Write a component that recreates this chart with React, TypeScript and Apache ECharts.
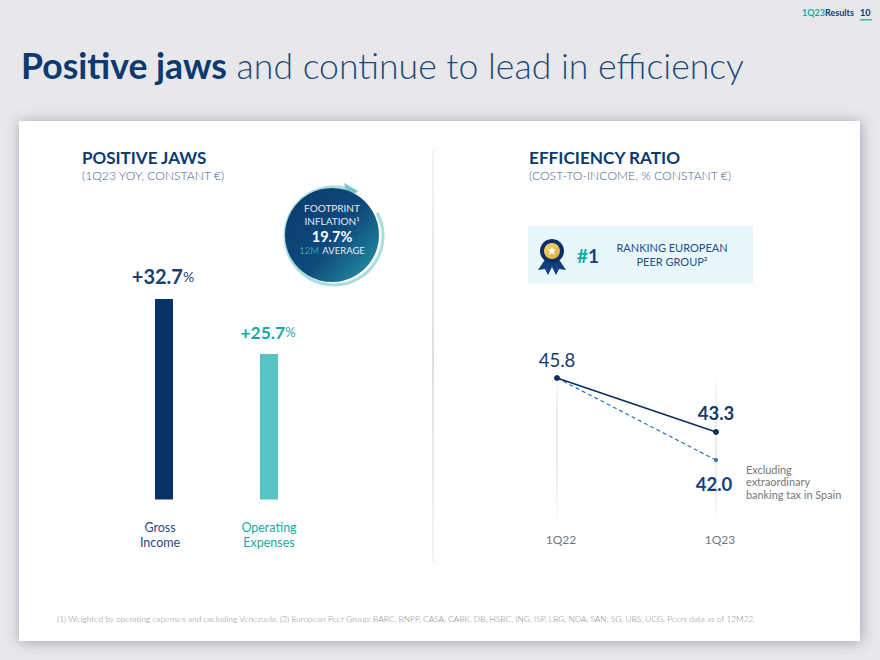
import React, { useEffect, useRef } from "react";
import * as echarts from "echarts";

const jawCategories = ["Gross\nIncome", "Operating\nExpenses"];
const jawValues = [32.7, 25.7];
const periods = ["1Q22", "1Q23"];
const reportedRatio = [45.8, 43.3];
const excludingTaxRatio = [45.8, 42.0];
const peers = "BARC, BNPP, CASA, CABK, DB, HSBC, ING, ISP, LBG, NDA, SAN, SG, UBS, UCG";

const NAVY = "#0b3a70";
const TEAL = "#17a9a6";
const FONT = "Lato";

const txt = (x: number, y: number, text: string, fontSize: number, fill: string, extra: any = {}) => ({
  type: "text",
  x,
  y,
  style: { text, fontSize, fill, fontFamily: FONT, textVerticalAlign: "middle", verticalAlign: "middle", ...extra },
});

const star = (cx: number, cy: number, R: number, r: number) => {
  const pts: number[][] = [];
  for (let i = 0; i < 10; i++) {
    const a = -Math.PI / 2 + (i * Math.PI) / 5;
    const d = i % 2 === 0 ? R : r;
    pts.push([cx + d * Math.cos(a), cy + d * Math.sin(a)]);
  }
  return pts;
};

export default function App() {
  const ref = useRef<HTMLDivElement>(null);
  useEffect(() => {
    document.body.style.margin = "0";
    const chart = echarts.init(ref.current!, undefined, { renderer: "svg" });
    const fade = new echarts.graphic.LinearGradient(
      0, 373, 0, 525,
      [
        { offset: 0, color: "rgba(232,234,236,0)" },
        { offset: 0.3, color: "rgba(232,234,236,1)" },
        { offset: 0.75, color: "rgba(238,240,241,1)" },
        { offset: 1, color: "rgba(238,240,241,0)" },
      ],
      true
    );
    chart.setOption({
      animation: false,
      backgroundColor: "#e8e8ea",
      textStyle: { fontFamily: FONT },
      grid: [
        { left: 111.5, top: 299, width: 210, height: 200.5 },
        { left: 557, top: 373.7, width: 159, height: 151.2 },
      ],
      xAxis: [
        {
          gridIndex: 0,
          type: "category",
          data: jawCategories,
          axisLine: { show: false },
          axisTick: { show: false },
          axisLabel: {
            margin: 20,
            formatter: (v: string, i: number) =>
              v.split("\n").map((l) => `{c${i}|${l}}`).join("\n"),
            rich: {
              c0: { fontSize: 12.5, lineHeight: 15, fontFamily: FONT, color: "#1f4a80", padding: [0, 8, 0, 0] },
              c1: { fontSize: 12.5, lineHeight: 15, fontFamily: FONT, color: TEAL },
            },
          },
        },
        {
          gridIndex: 1,
          type: "category",
          data: periods,
          boundaryGap: false,
          axisLine: { show: false },
          axisTick: { show: false },
          splitLine: { show: true, lineStyle: { color: fade, width: 2 } },
          axisLabel: { margin: 9, fontSize: 12, color: "#6f7780", fontFamily: FONT, showMinLabel: true, showMaxLabel: true, padding: [0, 0, 0, 8] },
        },
      ],
      yAxis: [
        { gridIndex: 0, type: "value", min: 7.2, max: 32.7, show: false },
        { gridIndex: 1, type: "value", min: 39, max: 46, show: false },
      ],
      series: [
        {
          type: "bar",
          xAxisIndex: 0,
          yAxisIndex: 0,
          barWidth: 18,
          data: jawValues.map((value, i) => ({
            value,
            itemStyle: { color: i === 0 ? "#0b3268" : "#57c3c3" },
            label: {
              show: true,
              position: "top",
              distance: 13,
              offset: [-1, 0],
              formatter: `{a${i}|+${value}}{b${i}|%}`,
              rich: {
                a0: { fontSize: 20, fontWeight: 700, color: "#1b3f70", fontFamily: FONT },
                b0: { fontSize: 14, color: "#1b3f70", fontFamily: FONT },
                a1: { fontSize: 17.5, fontWeight: 700, color: TEAL, fontFamily: FONT },
                b1: { fontSize: 13, color: TEAL, fontFamily: FONT },
              },
            },
          })),
        },
        {
          type: "line",
          name: "Excluding extraordinary banking tax in Spain",
          xAxisIndex: 1,
          yAxisIndex: 1,
          data: excludingTaxRatio.map((value, i) => ({
            value,
            symbolSize: i === 0 ? 0 : 4,
            label: {
              show: i === 1,
              position: "bottom",
              distance: 12,
              offset: [-2, 0],
              formatter: value.toFixed(1),
              fontSize: 18.5,
              fontWeight: "bold",
              color: "#143f80",
              fontFamily: FONT,
            },
          })),
          symbol: "circle",
          lineStyle: { color: "#2a72b8", width: 1.2, type: [4, 3] },
          itemStyle: { color: "#2a72b8" },
        },
        {
          type: "line",
          name: "Reported",
          xAxisIndex: 1,
          yAxisIndex: 1,
          data: reportedRatio.map((value, i) => ({
            value,
            label: {
              show: true,
              position: "top",
              distance: i === 1 ? 7 : 6,
              formatter: value.toFixed(1),
              fontSize: 18.5,
              fontWeight: i === 1 ? "bold" : "normal",
              color: "#163a6a",
              fontFamily: FONT,
            },
          })),
          symbol: "circle",
          symbolSize: 6,
          lineStyle: { color: "#0b2f60", width: 1.8 },
          itemStyle: { color: "#0b2f60" },
        },
      ],
      graphic: [
        {
          type: "rect",
          shape: { x: 19, y: 121, width: 841, height: 520 },
          style: { fill: "#fff", shadowBlur: 14, shadowColor: "rgba(70,75,95,0.45)", shadowOffsetX: 1, shadowOffsetY: 1 },
        },
        {
          type: "rect",
          shape: { x: 432, y: 150, width: 2, height: 412 },
          style: {
            fill: new echarts.graphic.LinearGradient(0, 150, 0, 562, [
              { offset: 0, color: "rgba(220,222,225,0.3)" },
              { offset: 0.5, color: "rgba(220,222,225,1)" },
              { offset: 1, color: "rgba(220,222,225,0.3)" },
            ], true),
          },
        },
        {
          type: "rect",
          shape: { x: 528, y: 226, width: 225, height: 58 },
          style: { fill: "#e8f7f9" },
        },
        // header
        txt(802, 12, "1Q23", 9, TEAL, { fontWeight: "bold" }),
        txt(825, 12, "Results", 9, NAVY, { fontWeight: "bold" }),
        txt(860, 12, "10", 9, NAVY, { fontWeight: "bold" }),
        { type: "rect", shape: { x: 860, y: 19, width: 12, height: 1.5 }, style: { fill: "#2fb8b4" } },
        {
          type: "text",
          x: 21,
          y: 65,
          style: {
            text: "{b|Positive jaws}{l| and continue to lead in efficiency}",
            verticalAlign: "middle",
            rich: {
              b: { fontSize: 35.6, fontWeight: "bold", fill: NAVY, fontFamily: FONT },
              l: { fontSize: 35.6, fontWeight: 300, fill: "#1d4a7c", fontFamily: FONT },
            },
          },
        },
        // section heads
        txt(82, 157, "POSITIVE JAWS", 17, NAVY, { fontWeight: "bold" }),
        txt(82, 175, "(1Q23 YOY, CONSTANT €)", 12.2, "#3f6088", { fontWeight: 300 }),
        txt(529, 157, "EFFICIENCY RATIO", 17.2, NAVY, { fontWeight: "bold" }),
        txt(529, 175, "(COST-TO-INCOME, % CONSTANT €)", 12.2, "#3f6088", { fontWeight: 300 }),
        // inflation badge
        {
          type: "arc",
          shape: { cx: 334, cy: 236, r: 49, startAngle: (-28 * Math.PI) / 180, endAngle: (-62 * Math.PI) / 180, clockwise: true },
          style: { stroke: "#a9dedd", lineWidth: 3, fill: "none" },
        },
        { type: "polygon", shape: { points: [[344, 183], [358, 191], [347, 197]] }, style: { fill: "#74c6c6" } },
        {
          type: "circle",
          shape: { cx: 332, cy: 235, r: 47 },
          style: {
            fill: new echarts.graphic.LinearGradient(285, 195, 378, 275, [
              { offset: 0, color: "#0b3a6e" },
              { offset: 0.55, color: "#0e4a7c" },
              { offset: 1, color: "#2496a6" },
            ], true),
          },
        },
        txt(332, 208, "FOOTPRINT", 10, "#e3ebf1", { align: "center", textAlign: "center" }),
        txt(332, 221, "INFLATION¹", 10, "#e3ebf1", { align: "center", textAlign: "center" }),
        txt(332, 236, "19.7%", 14.5, "#ffffff", { align: "center", textAlign: "center", fontWeight: "bold" }),
        {
          type: "text",
          x: 332,
          y: 250,
          style: {
            text: "{t|12M} {w|AVERAGE}",
            align: "center",
            verticalAlign: "middle",
            rich: {
              t: { fontSize: 9.5, fill: "#2aa5a8", fontFamily: FONT },
              w: { fontSize: 9.5, fill: "#e3ebf1", fontFamily: FONT },
            },
          },
        },
        // ranking medal
        { type: "polygon", shape: { points: [[546, 258], [538, 270], [545, 269], [548, 275], [555, 261]] }, style: { fill: "#123f7e" } },
        { type: "polygon", shape: { points: [[558, 258], [566, 270], [559, 269], [556, 275], [549, 261]] }, style: { fill: "#123f7e" } },
        { type: "circle", shape: { cx: 552, cy: 251, r: 12 }, style: { fill: "#0f2f63" } },
        {
          type: "circle",
          shape: { cx: 552, cy: 251, r: 8 },
          style: {
            fill: new echarts.graphic.LinearGradient(544, 243, 560, 259, [
              { offset: 0, color: "#f5d774" },
              { offset: 1, color: "#e2a93a" },
            ], true),
          },
        },
        { type: "polygon", shape: { points: star(552, 251, 4.5, 2) }, style: { fill: "#fff" } },
        {
          type: "text",
          x: 577,
          y: 255,
          style: {
            text: "{h|#}{o|1}",
            verticalAlign: "middle",
            rich: {
              h: { fontSize: 19, fontWeight: "bold", fill: TEAL, fontFamily: FONT },
              o: { fontSize: 19, fontWeight: "bold", fill: "#143f80", fontFamily: FONT },
            },
          },
        },
        txt(672, 247, "RANKING EUROPEAN", 11, "#23508f", { align: "center", textAlign: "center" }),
        txt(672, 261, "PEER GROUP²", 11, "#23508f", { align: "center", textAlign: "center" }),
        // annotation
        txt(746, 469, "Excluding", 10.9, "#6f7780"),
        txt(746, 481.5, "extraordinary", 10.9, "#6f7780"),
        txt(746, 494, "banking tax in Spain", 10.9, "#6f7780"),
        // footnote
        txt(
          57,
          619,
          `(1) Weighted by operating expenses and excluding Venezuela. (2) European Peer Group: ${peers}. Peers data as of 12M22.`,
          8.35,
          "#85888c",
          { fontWeight: 300 }
        ),
      ],
    });
    return () => chart.dispose();
  }, []);
  return <div ref={ref} style={{ position: "fixed", left: 0, top: 0, width: 880, height: 660 }} />;
}
